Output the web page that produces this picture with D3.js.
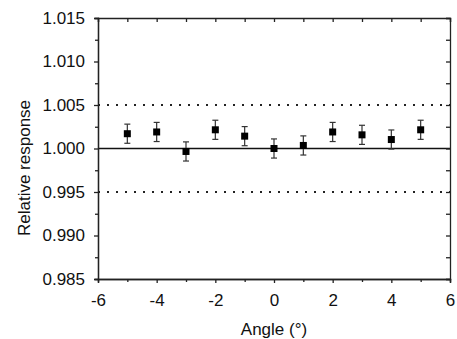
<!DOCTYPE html>
<html>
<head>
<meta charset="utf-8">
<script src="https://cdn.jsdelivr.net/npm/d3@7"></script>
<style>
body { margin: 0; background: #fff; }
text { font-family: "Liberation Sans", Arial, sans-serif; fill: #111; }
</style>
</head>
<body>
<div id="chart"></div>
<script>
var angles = [-5, -4, -3, -2, -1, 0, 1, 2, 3, 4, 5];
var response = [1.0017, 1.0019, 0.99966, 1.00215, 1.00142, 1.0000, 1.00035, 1.0019, 1.00157, 1.00103, 1.00215];
var errors = [0.0011, 0.0011, 0.0011, 0.0011, 0.0011, 0.0011, 0.0011, 0.0011, 0.0011, 0.0011, 0.0011];
var xTicks = [-6, -4, -2, 0, 2, 4, 6];
var yTicks = [0.985, 0.990, 0.995, 1.000, 1.005, 1.010, 1.015];
var refLines = [0.995, 1.005];

var W = 457, H = 339;
var margin = {top: 18, right: 7, bottom: 60, left: 98},
    width = W - margin.left - margin.right,
    height = H - margin.top - margin.bottom;

var svg = d3.select("#chart").append("svg")
    .attr("width", W)
    .attr("height", H);

var g = svg.append("g")
    .attr("transform", "translate(" + margin.left + "," + margin.top + ")");

var x = d3.scaleLinear().domain([-6, 6]).range([0, width]);
var y = d3.scaleLinear().domain([0.985, 1.015]).range([height, 0]);

// minor ticks halfway between majors
var xMinor = d3.range(-5, 6, 2);
var yMinor = yTicks.slice(0, -1).map(function(d) { return d + 0.0025; });

// dotted limits
g.selectAll(".ref")
    .data(refLines)
    .enter().append("line")
    .attr("x1", 0).attr("x2", width)
    .attr("y1", function(d) { return y(d); })
    .attr("y2", function(d) { return y(d); })
    .attr("stroke", "#222")
    .attr("stroke-width", 2)
    .attr("stroke-dasharray", "2,7");

g.append("line")
    .attr("x1", 0).attr("x2", width)
    .attr("y1", y(1)).attr("y2", y(1))
    .attr("stroke", "#111")
    .attr("stroke-width", 1.5);

// axes
var fmt = d3.format(".3f");
g.append("g")
    .attr("class", "axis")
    .attr("transform", "translate(0," + height + ")")
    .call(d3.axisBottom(x).tickValues(xTicks).tickSize(4).tickPadding(11)
        .tickFormat(function(d) { return String(d); }));
g.append("g")
    .attr("class", "axis")
    .attr("transform", "translate(0," + height + ")")
    .call(d3.axisBottom(x).tickValues(xMinor).tickSize(3).tickFormat(""));
g.append("g")
    .attr("class", "axis")
    .call(d3.axisLeft(y).tickValues(yTicks).tickSize(4).tickPadding(9).tickFormat(fmt));
g.append("g")
    .attr("class", "axis")
    .call(d3.axisLeft(y).tickValues(yMinor).tickSize(3).tickFormat(""));
// mirrored axes, ticks pointing in
g.append("g")
    .attr("class", "axis")
    .call(d3.axisTop(x).tickValues(xTicks.concat(xMinor)).tickSize(-4).tickFormat(""));
g.append("g")
    .attr("class", "axis")
    .attr("transform", "translate(" + width + ",0)")
    .call(d3.axisRight(y).tickValues(yTicks.concat(yMinor)).tickSize(-4).tickFormat(""));

g.selectAll(".axis path, .axis line")
    .attr("stroke", "#222")
    .attr("stroke-width", 1.3);
g.selectAll(".axis text")
    .style("font-size", "17px")
    .style("fill", "#111");

// error bars
var bars = g.append("g").selectAll("g")
    .data(angles)
    .enter().append("g");

bars.append("line")
    .attr("x1", function(d) { return x(d); })
    .attr("x2", function(d) { return x(d); })
    .attr("y1", function(d, i) { return y(response[i] + errors[i]); })
    .attr("y2", function(d, i) { return y(response[i] - errors[i]); })
    .attr("stroke", "#333").attr("stroke-width", 1.2);
[1, -1].forEach(function(s) {
    bars.append("line")
        .attr("x1", function(d) { return x(d) - 3; })
        .attr("x2", function(d) { return x(d) + 3; })
        .attr("y1", function(d, i) { return y(response[i] + s * errors[i]); })
        .attr("y2", function(d, i) { return y(response[i] + s * errors[i]); })
        .attr("stroke", "#333").attr("stroke-width", 1.2);
});

bars.append("rect")
    .attr("x", function(d) { return x(d) - 3.5; })
    .attr("y", function(d, i) { return y(response[i]) - 3.5; })
    .attr("width", 7).attr("height", 7)
    .attr("fill", "#000");

// labels
svg.append("text")
    .attr("x", margin.left + x(0))
    .attr("y", 335)
    .attr("text-anchor", "middle")
    .style("font-size", "17px")
    .text("Angle (°)");

svg.append("text")
    .attr("transform", "translate(30,168) rotate(-90)")
    .attr("text-anchor", "middle")
    .style("font-size", "17px")
    .text("Relative response");
</script>
</body>
</html>
